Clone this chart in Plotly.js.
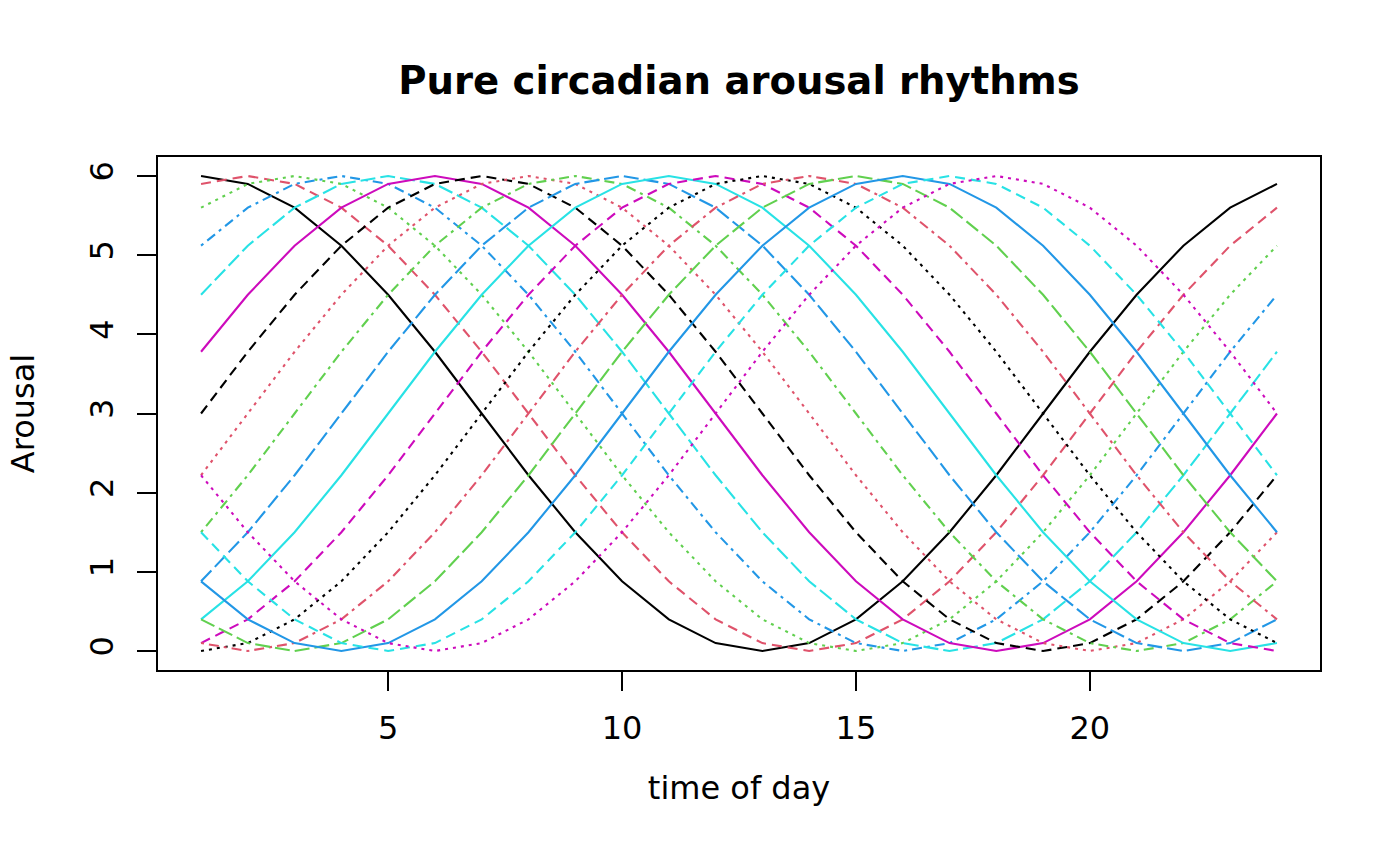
<!DOCTYPE html>
<html>
<head>
<meta charset="utf-8">
<script src="https://cdn.plot.ly/plotly-3.0.1.min.js"></script>
<style>
  html, body { margin: 0; padding: 0; background: #ffffff; }
  #arousal-plot { width: 1400px; height: 866px; }
</style>
</head>
<body>
<div id="arousal-plot"></div>
<script>
// hour of day (x values)
var hours = [1,2,3,4,5,6,7,8,9,10,11,12,13,14,15,16,17,18,19,20,21,22,23,24];

// one arousal curve per peak hour (1..18)
var peak01 = [6,5.9,5.6,5.12,4.5,3.78,3,2.22,1.5,0.88,0.4,0.1,0,0.1,0.4,0.88,1.5,2.22,3,3.78,4.5,5.12,5.6,5.9];
var peak02 = [5.9,6,5.9,5.6,5.12,4.5,3.78,3,2.22,1.5,0.88,0.4,0.1,0,0.1,0.4,0.88,1.5,2.22,3,3.78,4.5,5.12,5.6];
var peak03 = [5.6,5.9,6,5.9,5.6,5.12,4.5,3.78,3,2.22,1.5,0.88,0.4,0.1,0,0.1,0.4,0.88,1.5,2.22,3,3.78,4.5,5.12];
var peak04 = [5.12,5.6,5.9,6,5.9,5.6,5.12,4.5,3.78,3,2.22,1.5,0.88,0.4,0.1,0,0.1,0.4,0.88,1.5,2.22,3,3.78,4.5];
var peak05 = [4.5,5.12,5.6,5.9,6,5.9,5.6,5.12,4.5,3.78,3,2.22,1.5,0.88,0.4,0.1,0,0.1,0.4,0.88,1.5,2.22,3,3.78];
var peak06 = [3.78,4.5,5.12,5.6,5.9,6,5.9,5.6,5.12,4.5,3.78,3,2.22,1.5,0.88,0.4,0.1,0,0.1,0.4,0.88,1.5,2.22,3];
var peak07 = [3,3.78,4.5,5.12,5.6,5.9,6,5.9,5.6,5.12,4.5,3.78,3,2.22,1.5,0.88,0.4,0.1,0,0.1,0.4,0.88,1.5,2.22];
var peak08 = [2.22,3,3.78,4.5,5.12,5.6,5.9,6,5.9,5.6,5.12,4.5,3.78,3,2.22,1.5,0.88,0.4,0.1,0,0.1,0.4,0.88,1.5];
var peak09 = [1.5,2.22,3,3.78,4.5,5.12,5.6,5.9,6,5.9,5.6,5.12,4.5,3.78,3,2.22,1.5,0.88,0.4,0.1,0,0.1,0.4,0.88];
var peak10 = [0.88,1.5,2.22,3,3.78,4.5,5.12,5.6,5.9,6,5.9,5.6,5.12,4.5,3.78,3,2.22,1.5,0.88,0.4,0.1,0,0.1,0.4];
var peak11 = [0.4,0.88,1.5,2.22,3,3.78,4.5,5.12,5.6,5.9,6,5.9,5.6,5.12,4.5,3.78,3,2.22,1.5,0.88,0.4,0.1,0,0.1];
var peak12 = [0.1,0.4,0.88,1.5,2.22,3,3.78,4.5,5.12,5.6,5.9,6,5.9,5.6,5.12,4.5,3.78,3,2.22,1.5,0.88,0.4,0.1,0];
var peak13 = [0,0.1,0.4,0.88,1.5,2.22,3,3.78,4.5,5.12,5.6,5.9,6,5.9,5.6,5.12,4.5,3.78,3,2.22,1.5,0.88,0.4,0.1];
var peak14 = [0.1,0,0.1,0.4,0.88,1.5,2.22,3,3.78,4.5,5.12,5.6,5.9,6,5.9,5.6,5.12,4.5,3.78,3,2.22,1.5,0.88,0.4];
var peak15 = [0.4,0.1,0,0.1,0.4,0.88,1.5,2.22,3,3.78,4.5,5.12,5.6,5.9,6,5.9,5.6,5.12,4.5,3.78,3,2.22,1.5,0.88];
var peak16 = [0.88,0.4,0.1,0,0.1,0.4,0.88,1.5,2.22,3,3.78,4.5,5.12,5.6,5.9,6,5.9,5.6,5.12,4.5,3.78,3,2.22,1.5];
var peak17 = [1.5,0.88,0.4,0.1,0,0.1,0.4,0.88,1.5,2.22,3,3.78,4.5,5.12,5.6,5.9,6,5.9,5.6,5.12,4.5,3.78,3,2.22];
var peak18 = [2.22,1.5,0.88,0.4,0.1,0,0.1,0.4,0.88,1.5,2.22,3,3.78,4.5,5.12,5.6,5.9,6,5.9,5.6,5.12,4.5,3.78,3];

var curves = [peak01, peak02, peak03, peak04, peak05, peak06, peak07, peak08, peak09,
              peak10, peak11, peak12, peak13, peak14, peak15, peak16, peak17, peak18];

var xTicks = [5, 10, 15, 20];
var yTicks = [0, 1, 2, 3, 4, 5, 6];

// R palette colours and line types, cycled like matplot does
var colours = ['#000000', '#DF536B', '#61D04F', '#2297E6', '#28E2E5', '#CD0BBC'];
var dashes = ['solid', '10px,6px', '3px,5px', '3px,5px,10px,5px', '15px,5px'];

function init_arousal_plot(){
    var data = [];
    for (var i = 0; i < curves.length; i++) {
        data.push({
            x: hours,
            y: curves[i],
            type: 'scatter',
            mode: 'lines',
            showlegend: false,
            line: {
                color: colours[i % colours.length],
                dash: dashes[i % dashes.length],
                width: 2.1
            }
        });
    }

    var font = 'DejaVu Sans, sans-serif';

    var layout = {
        width: 1400,
        height: 866,
        paper_bgcolor: '#ffffff',
        plot_bgcolor: '#ffffff',
        margin: {l: 158, r: 80, t: 157, b: 196},
        font: {family: font, size: 32, color: '#000000'},
        title: {
            text: '<b>Pure circadian arousal rhythms</b>',
            font: {family: font, size: 38.6, color: '#000000'},
            x: 0.5, xref: 'paper', xanchor: 'center',
            y: 1 - 80 / 866, yref: 'container', yanchor: 'middle'
        },
        xaxis: {
            range: [0.08, 24.92],
            tickvals: xTicks,
            ticks: 'outside', ticklen: 19, tickwidth: 2, tickcolor: '#000000',
            showline: true, mirror: true, linecolor: '#000000', linewidth: 2,
            showgrid: false, zeroline: false,
            tickfont: {family: font, size: 32},
            ticklabelstandoff: 10,
            title: {text: 'time of day', font: {family: font, size: 32}, standoff: 30}
        },
        yaxis: {
            range: [-0.24, 6.24],
            tickvals: yTicks,
            tickangle: -90,
            ticks: 'outside', ticklen: 19, tickwidth: 2, tickcolor: '#000000',
            showline: true, mirror: true, linecolor: '#000000', linewidth: 2,
            showgrid: false, zeroline: false,
            tickfont: {family: font, size: 32},
            ticklabelstandoff: 11,
            title: {text: 'Arousal', font: {family: font, size: 32}, standoff: 39}
        }
    };

    var additional_param = {
        displayModeBar: false,          // Plain picture, no buttons
        displaylogo: false
    };

    Plotly.newPlot('arousal-plot', data, layout, additional_param);
};

init_arousal_plot();
</script>
</body>
</html>
